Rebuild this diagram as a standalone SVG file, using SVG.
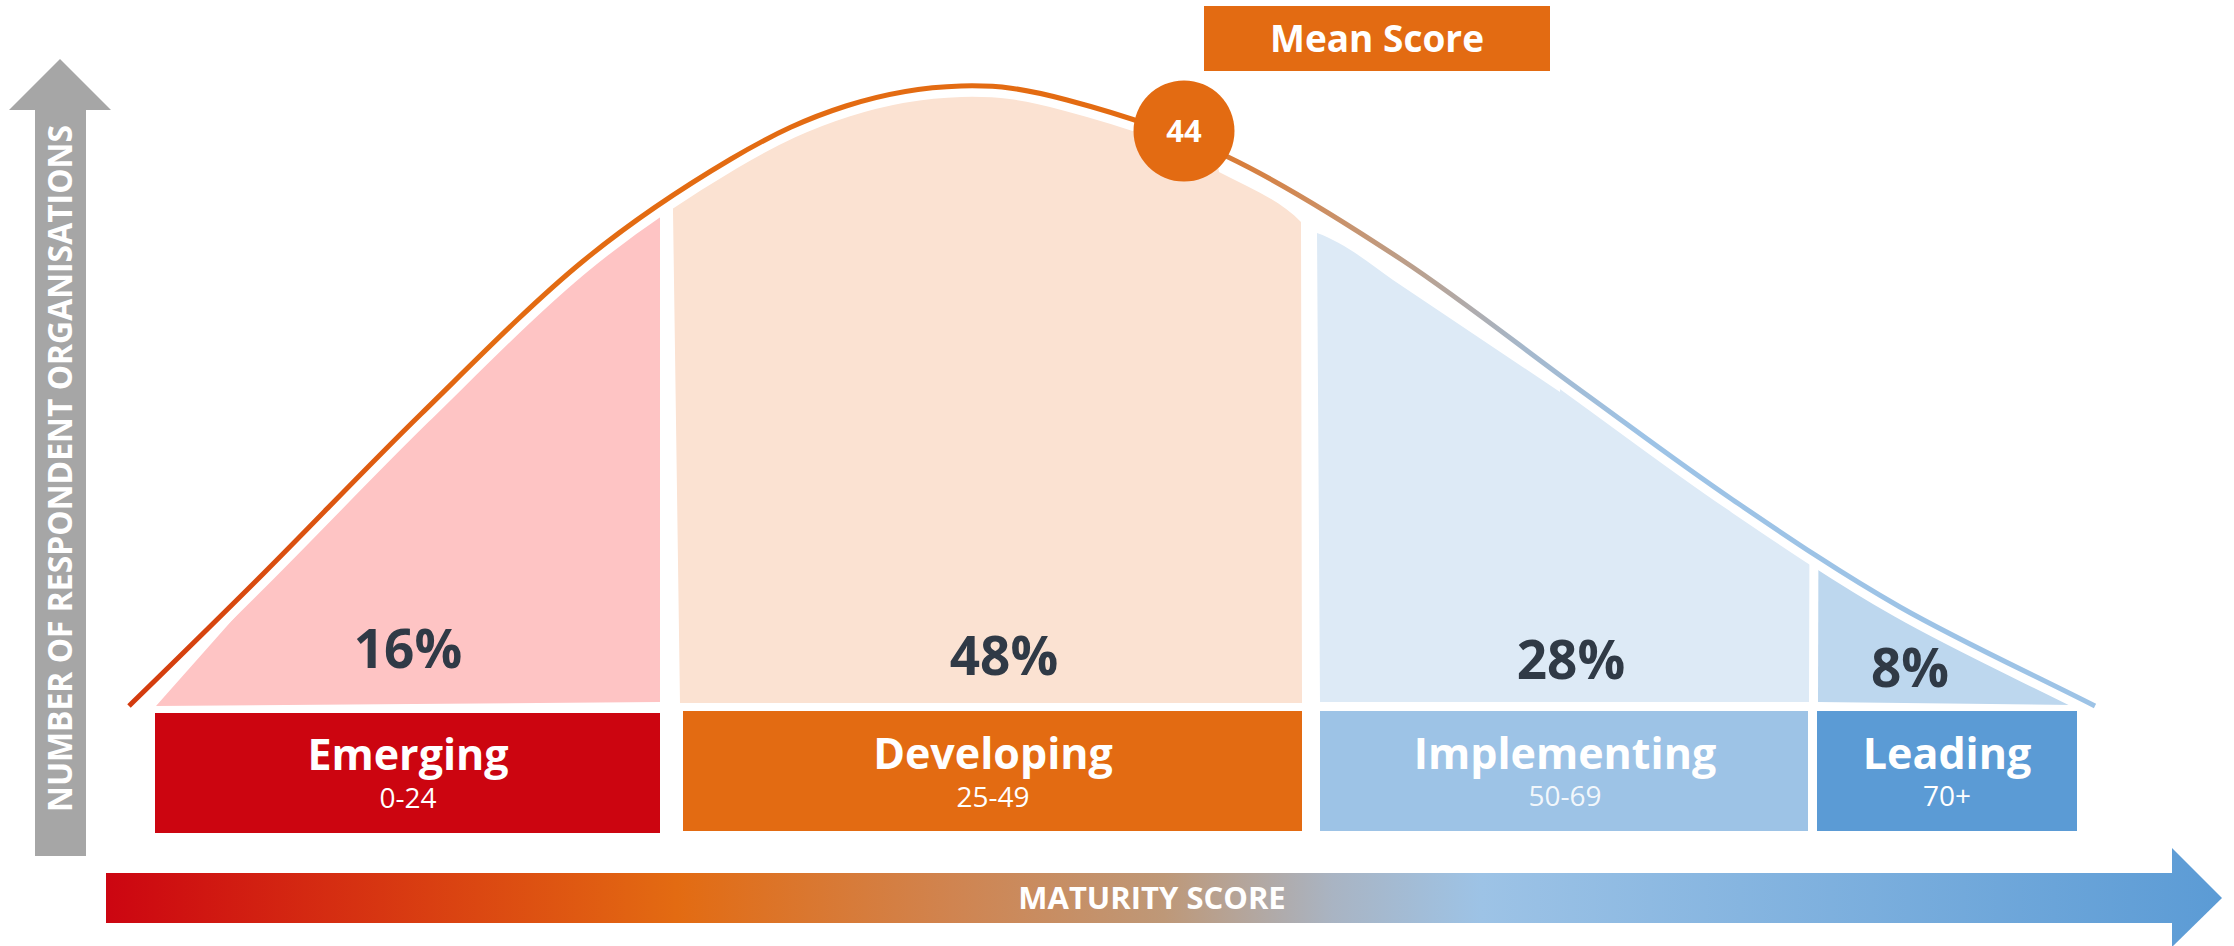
<svg xmlns="http://www.w3.org/2000/svg" width="2234" height="946" viewBox="0 0 2234 946">
<defs>
<style>
.t{font-family:"Open Sans","Liberation Sans",sans-serif;text-anchor:middle}
.pct{font-weight:700;font-size:53px;fill:#303A46}
.ttl{font-weight:700;font-size:43px;fill:#fff}
.sub{font-weight:400;font-size:28px;fill:#fff}
</style>
<linearGradient id="gCurve" gradientUnits="userSpaceOnUse" x1="129" y1="0" x2="2095" y2="0">
<stop offset="0" stop-color="#D33A0E"/>
<stop offset="0.18" stop-color="#E36B12"/>
<stop offset="0.52" stop-color="#E36B12"/>
<stop offset="0.6" stop-color="#CF8C5C"/>
<stop offset="0.66" stop-color="#B8A293"/>
<stop offset="0.71" stop-color="#A5B8CC"/>
<stop offset="0.77" stop-color="#9DC3E6"/>
<stop offset="1" stop-color="#9DC3E6"/>
</linearGradient>
<linearGradient id="gAxis" gradientUnits="userSpaceOnUse" x1="106" y1="0" x2="2222" y2="0">
<stop offset="0" stop-color="#CC0511"/>
<stop offset="0.27" stop-color="#E36B12"/>
<stop offset="0.4" stop-color="#D08450"/>
<stop offset="0.5" stop-color="#BE9878"/>
<stop offset="0.58" stop-color="#A9B4C3"/>
<stop offset="0.65" stop-color="#9DC3E6"/>
<stop offset="1" stop-color="#5B9BD5"/>
</linearGradient>
<path id="curve" d="M129,706 C174,662 215.3,621.7 264,573 C312.7,524.3 368,465.8 421,414 C474,362.2 530.3,304.5 582,262 C633.7,219.5 687,185 731,159 C775,133 807.7,118.2 846,106 C884.3,93.8 924.2,87 961,86 C997.8,85 1022.5,88.2 1067,100 C1111.5,111.8 1172.2,130.3 1228,157 C1283.8,183.7 1343.3,221.2 1402,260 C1460.7,298.8 1524.8,350 1580,390 C1635.2,430 1679.7,463.8 1733,500 C1786.3,536.2 1839.7,572.7 1900,607 C1960.3,641.3 2030,673 2095,706"/>
<clipPath id="under">
<path d="M129,706 C174,662 215.3,621.7 264,573 C312.7,524.3 368,465.8 421,414 C474,362.2 530.3,304.5 582,262 C633.7,219.5 687,185 731,159 C775,133 807.7,118.2 846,106 C884.3,93.8 924.2,87 961,86 C997.8,85 1022.5,88.2 1067,100 C1111.5,111.8 1172.2,130.3 1228,157 C1283.8,183.7 1343.3,221.2 1402,260 C1460.7,298.8 1524.8,350 1580,390 C1635.2,430 1679.7,463.8 1733,500 C1786.3,536.2 1839.7,572.7 1900,607 C1960.3,641.3 2030,673 2095,706 L2095,712 L129,712 Z"/>
</clipPath>
</defs>

<g id="y-axis">
<rect x="35" y="109" width="51" height="747" fill="#A6A6A6"/>
<polygon points="60,59 111,110 9,110" fill="#A6A6A6"/>
<text class="t" transform="translate(72,468.5) rotate(-90)" x="0" y="0" font-size="34" font-weight="700" fill="#fff" textLength="687" lengthAdjust="spacingAndGlyphs">NUMBER OF RESPONDENT ORGANISATIONS</text>
</g>

<g id="x-axis">
<rect x="106" y="873" width="2068" height="50" fill="url(#gAxis)"/>
<polygon points="2172,848 2222,898 2172,947" fill="url(#gAxis)"/>
<text class="t" x="1152" y="909" font-size="31" font-weight="700" fill="#fff">MATURITY SCORE</text>
</g>

<g id="areas" clip-path="url(#under)">
<path id="area-emerging" d="M156,706 L290,555 L290,0 L660,0 L660,702 Z" fill="#FEC4C4"/>
<path id="area-developing" d="M670,0 L1195,0 L1219,172 C1250,188 1280,200 1301,222 L1302,703 L680,703 Z" fill="#FBE2D2"/>
<path id="area-implementing" d="M1317,233 C1345,243 1372,265 1393,280 L1560,392 L1570,0 L1811,0 L1809,702 L1320,702 Z" fill="#DDEAF6"/>
<path id="area-leading" d="M1818,702 L1820,0 L2120,0 L2120,705 L2073,705 Z" fill="#BDD7EE"/>
</g>

<g id="connectors">
<use href="#curve" fill="none" stroke="#fff" stroke-width="22"/>
<use href="#curve" fill="none" stroke="url(#gCurve)" stroke-width="5"/>
</g>

<g id="pct-labels">
<text class="t pct" x="408" y="668">16%</text>
<text class="t pct" x="1004" y="675">48%</text>
<text class="t pct" x="1571" y="679">28%</text>
<text class="t pct" x="1910" y="687">8%</text>
</g>

<g id="emerging">
<rect x="155" y="713" width="505" height="120" fill="#CC0510"/>
<text class="t ttl" x="408" y="770">Emerging</text>
<text class="t sub" x="408" y="808">0-24</text>
</g>
<g id="developing">
<rect x="683" y="711" width="619" height="120" fill="#E36B12"/>
<text class="t ttl" x="993" y="769">Developing</text>
<text class="t sub" x="993" y="807">25-49</text>
</g>
<g id="implementing">
<rect x="1320" y="711" width="488" height="120" fill="#9DC3E6"/>
<text class="t ttl" x="1565" y="769">Implementing</text>
<text class="t sub" x="1565" y="806" fill-opacity="0.9">50-69</text>
</g>
<g id="leading">
<rect x="1817" y="711" width="260" height="120" fill="#5B9BD5"/>
<text class="t ttl" x="1947" y="769">Leading</text>
<text class="t sub" x="1947" y="806">70+</text>
</g>

<g id="mean-score">
<rect x="1204" y="6" width="346" height="65" fill="#E36B12"/>
<text class="t" x="1377" y="52" font-size="37" font-weight="700" fill="#fff">Mean Score</text>
</g>
<g id="mean-marker">
<circle cx="1184" cy="131" r="50.5" fill="#E36B12"/>
<text class="t" x="1184" y="142" font-size="31" font-weight="700" fill="#fff">44</text>
</g>
</svg>
